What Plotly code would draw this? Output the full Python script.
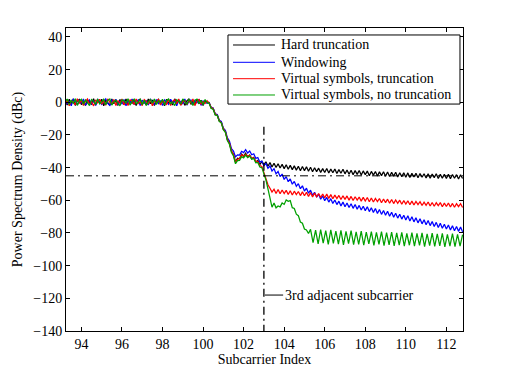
import numpy as np
import plotly.graph_objects as go

# ---------------- data ----------------
# common subcarrier grid, 0.1 spacing, 93.2 .. 112.8
x_grid = np.round(np.arange(932, 1129) / 10.0, 1)

hard_flat = [0.8, -1.6, 1.9, -0.7, 2.1, -1.9, 0.9, 1.7, -1.4, 0.5,
             -2.0, 1.5, 0.2, -1.1, 2.2, -1.6, 1.2, -0.4, 1.9, -2.1,
             1.3, -0.2, -1.8, 2.0, -0.8, 1.0, -1.9, 1.7, 0.4, -1.2,
             2.1, -1.4, 0.7, -0.6, 1.6, -2.0, 1.1, 1.9, -1.0, 0.3,
             -1.6, 2.0, -0.8, 1.4, -1.9, 0.5, 1.8, -1.2, 0.9, -2.1,
             1.9, -0.6, 1.2, -1.7, 2.1, -0.3, 0.8, -1.4, 1.7, -1.9,
             0.9, 2.0, -1.2, 0.5, -1.6, 1.9, -0.8, 1.3, -2.0, 0.7,
             0.2]
hard_edge = [-0.2, -3.5, -3.6, -7.6, -7.7, -11.5, -12.0, -16.6, -17.6, -23.1,
             -24.7, -30.0, -31.8, -36.6, -34.2, -34.6, -31.7, -33.0, -31.2, -33.5,
             -32.3, -34.6, -33.7, -36.5, -35.6, -38.1, -36.2, -38.4]
hard_tail = [-36.4, -39.1, -36.9, -39.6, -37.3, -39.9, -37.6, -40.2, -38.0, -40.6,
             -38.2, -41.0, -38.6, -41.2, -38.9, -41.5, -39.1, -41.9, -39.3, -41.8,
             -39.5, -42.2, -39.8, -42.5, -40.1, -42.4, -40.3, -42.9, -40.6, -43.0,
             -40.5, -43.3, -40.9, -43.1, -40.8, -43.6, -41.2, -43.4, -41.0, -43.8,
             -41.4, -44.0, -41.6, -44.3, -41.8, -44.1, -41.7, -44.5, -42.0, -44.3,
             -42.1, -44.9, -42.3, -44.6, -42.4, -45.1, -42.6, -44.9, -42.5, -45.3,
             -42.7, -45.4, -42.9, -45.2, -42.8, -45.7, -43.1, -45.5, -43.2, -45.9,
             -43.2, -46.0, -43.5, -45.7, -43.4, -46.2, -43.6, -45.9, -43.7, -46.3,
             -43.8, -46.5, -43.9, -46.1, -43.7, -46.6, -44.1, -46.4, -44.0, -46.7,
             -44.1, -46.8, -44.2, -46.5, -44.3, -46.9, -44.4, -46.6]

win_flat = [1.3, -0.9, 0.4, -2.1, 1.9, 0.6, -1.5, 1.1, -0.4, 2.0,
            -1.7, 0.2, 1.5, -1.1, 0.9, -2.0, 1.7, 0.4, -1.3, 0.7,
            2.1, -0.7, -1.9, 1.3, 0.0, 1.9, -1.5, 0.9, -0.9, 1.7,
            -2.1, 1.1, -0.2, 2.0, -1.3, 0.6, 1.5, -1.9, 1.3, -0.4,
            0.9, -1.7, 2.1, 0.0, -1.1, 1.7, -0.7, 1.1, -2.0, 1.5,
            0.4, -1.3, 1.9, -0.4, 0.6, -2.1, 1.3, 0.2, -0.9, 2.0,
            -1.7, 0.6, 1.5, -1.3, 1.1, -0.2, 1.9, -1.9, 0.9, 0.0,
            -0.6]
win_edge = [-0.1, -3.1, -3.8, -7.0, -7.5, -11.0, -11.7, -15.8, -17.2, -21.8,
            -23.7, -28.3, -29.8, -33.4, -32.2, -32.3, -30.0, -30.8, -29.0, -31.0,
            -29.8, -32.1, -31.5, -34.3, -33.8, -36.6, -36.0, -38.8]
win_tail = [-37.5, -40.4, -38.9, -42.1, -40.6, -43.8, -42.3, -45.5, -43.9, -47.2,
            -45.5, -48.6, -46.9, -50.1, -48.4, -51.4, -49.8, -52.9, -51.1, -54.3,
            -52.6, -55.6, -53.8, -56.9, -55.1, -58.0, -56.2, -59.3, -57.3, -60.2,
            -58.2, -61.1, -59.0, -61.9, -59.8, -62.6, -60.5, -63.4, -61.1, -63.9,
            -61.6, -64.4, -62.1, -64.9, -62.6, -65.4, -63.1, -65.9, -63.6, -66.3,
            -63.9, -66.9, -64.5, -67.4, -65.0, -68.0, -65.6, -68.6, -66.2, -69.1,
            -66.7, -69.7, -67.3, -70.3, -67.9, -70.9, -68.5, -71.5, -69.1, -72.0,
            -69.5, -72.6, -70.1, -73.2, -70.7, -73.8, -71.3, -74.4, -71.9, -74.9,
            -72.4, -75.5, -73.0, -76.0, -73.5, -76.6, -74.1, -77.1, -74.6, -77.6,
            -75.1, -78.1, -75.6, -78.6, -76.0, -79.0, -76.4, -79.3]

vst_flat = [-1.2, 1.7, -2.1, 0.9, 0.2, -1.6, 2.2, -0.7, 1.3, -1.9,
            0.6, 2.0, -1.4, 0.4, -2.2, 1.5, -0.3, 1.9, -1.1, 0.9,
            -1.8, 2.1, 0.0, -0.9, 1.7, -2.0, 1.1, -0.5, 2.0, -1.5,
            0.5, -1.9, 1.5, 0.9, -1.3, 2.1, -0.7, 0.2, -2.0, 1.7,
            0.6, -1.1, 1.9, -2.1, 0.9, -0.4, 2.0, -1.7, 1.3, 0.0,
            -1.3, 1.9, -2.0, 0.7, 1.5, -0.9, 2.1, -1.9, 0.4, 1.1,
            -1.5, 1.3, -0.4, 2.0, -2.0, 0.9, 1.7, -1.1, 0.4, -0.7,
            0.9]
vst_edge = [-0.5, -3.2, -4.0, -7.1, -8.0, -11.2, -12.5, -16.1, -18.2, -22.6,
            -25.1, -29.6, -32.1, -36.7, -34.9, -34.4, -32.2, -32.8, -31.8, -33.0,
            -32.5, -34.2, -34.0, -36.1, -36.2, -38.7, -39.2, -43.3]
vst_tail = [-46.5, -50.5, -52.6, -55.0, -53.2, -55.8, -53.4, -56.0, -53.7, -55.9,
            -53.9, -56.4, -54.1, -56.7, -54.4, -56.5, -54.6, -57.1, -54.8, -57.2,
            -55.1, -57.6, -55.3, -57.9, -55.6, -57.8, -55.8, -58.3, -56.1, -58.4,
            -56.2, -58.8, -56.5, -59.0, -56.8, -58.9, -57.0, -59.5, -57.2, -59.4,
            -57.3, -59.9, -57.6, -60.1, -57.8, -59.9, -58.0, -60.5, -58.2, -60.4,
            -58.3, -60.9, -58.6, -61.0, -58.8, -60.8, -58.9, -61.5, -59.2, -61.4,
            -59.3, -61.8, -59.5, -62.0, -59.8, -61.8, -59.9, -62.4, -60.2, -62.3,
            -60.3, -62.7, -60.5, -62.9, -60.7, -62.6, -60.8, -63.2, -61.1, -63.1,
            -61.0, -63.5, -61.3, -63.6, -61.5, -63.3, -61.4, -63.9, -61.7, -63.8,
            -61.6, -64.1, -61.9, -64.2, -62.0, -63.9, -62.1, -64.4]

vsn_flat = [0.4, 2.0, -1.3, 1.1, -0.6, 2.2, -1.9, 0.9, 1.9, -1.1,
            1.5, -0.4, -2.0, 1.7, 0.6, -1.3, 2.1, -0.9, 0.2, 1.9,
            -1.5, 1.1, 2.0, -1.7, 0.4, 1.3, -0.6, -2.1, 1.5, 0.9,
            -0.4, 2.2, -1.7, 0.6, 1.9, -0.9, 0.0, 2.0, -1.5, 1.3,
            -1.9, 0.4, 1.7, -0.6, 2.1, -1.3, 0.9, -0.2, 1.9, -1.7,
            1.1, 2.0, -0.9, 0.2, -2.0, 1.5, 0.6, -1.1, 2.1, 0.0,
            -1.3, 1.7, 0.4, -1.9, 1.3, 2.0, -0.6, 0.9, -1.5, 1.7,
            -0.2]
vsn_edge = [-0.6, -3.7, -4.4, -7.7, -8.1, -11.7, -12.6, -16.7, -18.4, -23.4,
            -25.6, -30.7, -32.9, -37.6, -35.7, -35.5, -33.3, -34.0, -32.3, -33.9,
            -32.9, -34.8, -34.4, -37.0, -36.8, -39.6, -40.0, -43.6]
vsn_mid = [-47.5, -53.0, -58.5, -64.2, -61.6, -64.6, -63.5, -64.0, -61.6, -62.5,
           -59.8, -60.6, -60.2, -64.5, -65.0, -68.5, -69.4, -73.3, -74.0, -77.6,
           -78.2, -80.3]
# ripple tail sampled every 0.125 from 105.3 to 112.8
vsn_tail_x = np.round(105.3 + np.arange(61) * 0.125, 3)
vsn_tail = [-77.8, -85.9, -78.3, -86.6, -77.9, -86.2, -78.6, -87.0, -78.1, -86.4,
            -78.9, -86.8, -78.4, -87.3, -79.0, -86.5, -78.6, -87.1, -79.3, -86.9,
            -78.8, -87.5, -79.4, -86.7, -79.1, -87.6, -79.6, -87.0, -79.2, -87.8,
            -79.8, -87.2, -79.4, -87.9, -80.0, -87.4, -79.6, -88.1, -80.2, -87.5,
            -79.8, -88.0, -80.3, -87.6, -80.0, -88.3, -80.5, -87.8, -80.1, -88.2,
            -80.6, -87.9, -80.3, -88.5, -80.8, -88.0, -80.4, -88.4, -80.9, -88.1,
            -81.0]

series_names = ["Hard truncation", "Windowing",
                "Virtual symbols, truncation", "Virtual symbols, no truncation"]
series_colors = ["#000000", "#0000FF", "#FF0000", "#00A000"]

threshold_db = -45
marker_sub = 103
marker_top = -15
note_y = -118
note_text = "3rd adjacent subcarrier"

x_ticks = list(range(94, 113, 2))
y_ticks = list(range(-140, 41, 20))

# ---------------- figure ----------------
hard = hard_flat + hard_edge + hard_tail
win = win_flat + win_edge + win_tail
vst = vst_flat + vst_edge + vst_tail
vsn = vsn_flat + vsn_edge + vsn_mid + vsn_tail
vsn_x = np.concatenate([x_grid[:len(vsn_flat) + len(vsn_edge) + len(vsn_mid)], vsn_tail_x])

xs = [x_grid, x_grid, x_grid, vsn_x]
ys = [hard, win, vst, vsn]

FONT = "Liberation Serif"
FS = 14

fig = go.Figure()
for name, col, xv, yv in zip(series_names, series_colors, xs, ys):
    fig.add_trace(go.Scatter(x=xv, y=yv, mode="lines", name=name, showlegend=False,
                             line=dict(color=col, width=1.25)))

dd = "8px,4px,2px,4px"
fig.add_shape(type="line", xref="paper", yref="y", x0=0, x1=1,
              y0=threshold_db, y1=threshold_db,
              line=dict(color="black", width=1, dash=dd))
fig.add_shape(type="line", xref="x", yref="y", x0=marker_sub, x1=marker_sub,
              y0=marker_top, y1=-140,
              line=dict(color="black", width=1.3, dash=dd))
fig.add_shape(type="line", xref="x", yref="y", x0=marker_sub + 0.05, x1=marker_sub + 0.95,
              y0=note_y, y1=note_y, line=dict(color="black", width=1))
fig.add_annotation(x=marker_sub + 0.93, y=note_y, text=note_text, showarrow=False,
                   xanchor="left", yanchor="middle",
                   font=dict(family=FONT, size=FS, color="black"))

# ---- legend box (MATLAB style) in paper coordinates ----
L_x0, L_x1, L_y0, L_y1 = 0.408, 0.9924, 0.749, 0.977
fig.add_shape(type="rect", xref="paper", yref="paper", x0=L_x0, x1=L_x1, y0=L_y0, y1=L_y1,
              line=dict(color="black", width=1), fillcolor="white", layer="above")
row_y = [0.9439, 0.8868, 0.8327, 0.7789]
for name, col, ry in zip(series_names, series_colors, row_y):
    fig.add_shape(type="line", xref="paper", yref="paper", x0=0.4207, x1=0.5264,
                  y0=ry, y1=ry, line=dict(color=col, width=1))
    fig.add_annotation(xref="paper", yref="paper", x=0.536, y=ry, text=name,
                       showarrow=False, xanchor="left", yanchor="middle",
                       font=dict(family=FONT, size=FS, color="black"))

axis_common = dict(showline=True, linecolor="black", linewidth=1, mirror="ticks",
                   ticks="inside", ticklen=4, tickcolor="black", showgrid=False,
                   zeroline=False, tickfont=dict(family=FONT, size=FS, color="black"))

fig.update_xaxes(range=[93.24, 112.82], tickvals=x_ticks,
                 title=dict(text="Subcarrier Index", font=dict(family=FONT, size=FS, color="black"),
                            standoff=1), **axis_common)
fig.update_yaxes(range=[-140, 45.5], tickvals=y_ticks,
                 title=dict(text="Power Spectrum Density (dBc)",
                            font=dict(family=FONT, size=FS, color="black"), standoff=7),
                 **axis_common)

# page body has an 8px margin, so the figure is 8px smaller than the window
fig.update_layout(
    width=504, height=365,
    margin=dict(l=58, r=49, t=20, b=42, autoexpand=False),
    paper_bgcolor="white", plot_bgcolor="white",
    font=dict(family=FONT, size=FS, color="black"),
    showlegend=False,
)

fig.write_html("out.html")
